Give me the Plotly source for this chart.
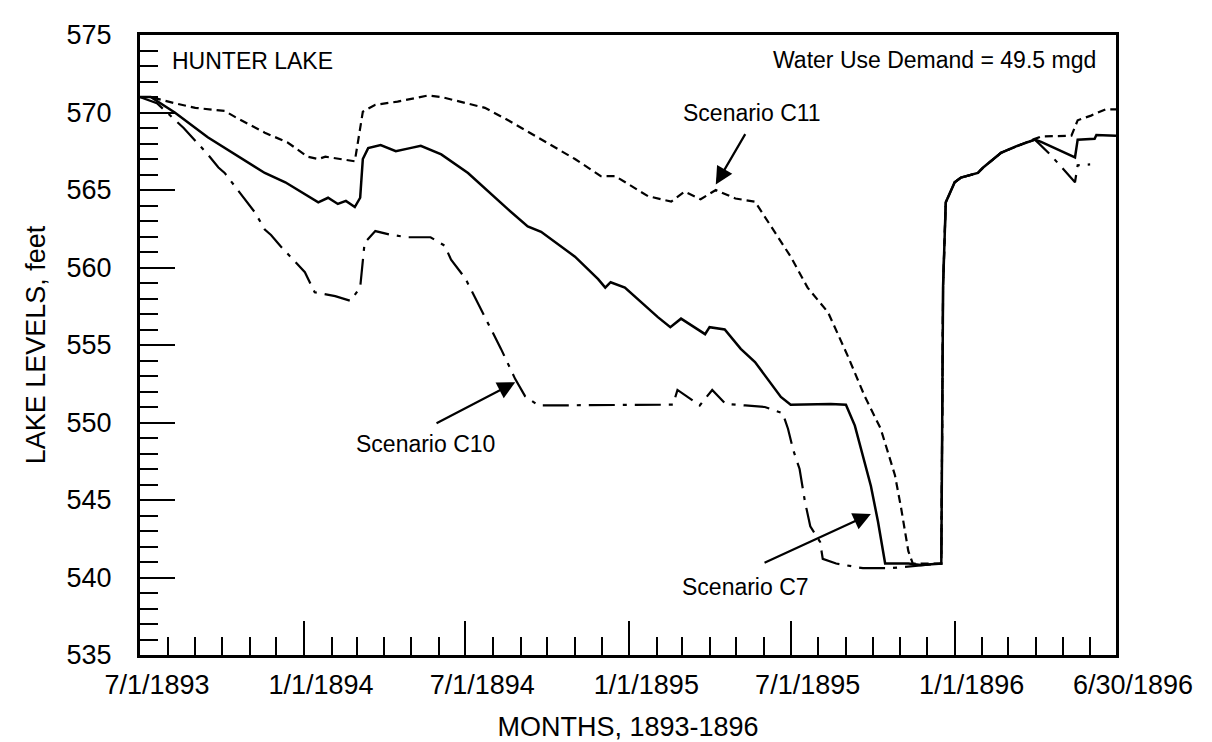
import plotly.graph_objects as go

# ---------------- data ----------------
c7_dates = ["1893-07-01", "1893-07-13", "1893-08-09", "1893-09-15", "1893-11-18", "1893-12-11",
            "1894-01-17", "1894-01-28", "1894-02-08", "1894-02-17", "1894-02-27", "1894-03-05",
            "1894-03-08", "1894-03-14", "1894-03-28", "1894-04-14", "1894-04-30", "1894-05-12",
            "1894-06-04", "1894-07-04", "1894-08-18", "1894-09-09", "1894-09-24", "1894-11-01",
            "1894-11-27", "1894-12-05", "1894-12-11", "1894-12-27", "1895-02-02", "1895-02-16",
            "1895-02-28", "1895-03-27", "1895-04-01", "1895-04-18", "1895-05-06", "1895-05-22",
            "1895-06-20", "1895-07-01", "1895-08-15", "1895-09-01", "1895-09-11", "1895-09-29",
            "1895-10-07", "1895-10-15", "1895-11-10", "1895-11-24", "1895-12-17", "1895-12-19",
            "1895-12-22", "1896-01-01", "1896-01-08", "1896-01-27", "1896-02-02", "1896-02-22",
            "1896-03-09", "1896-03-31", "1896-04-07", "1896-05-15", "1896-05-18", "1896-06-06",
            "1896-06-08", "1896-06-30"]
c7_levels = [571.0, 571.0, 570.0, 568.4, 566.1, 565.5,
             564.2, 564.5, 564.1, 564.3, 563.9, 564.5,
             567.0, 567.7, 567.9, 567.5, 567.7, 567.85,
             567.3, 566.1, 563.75, 562.65, 562.3, 560.7,
             559.25, 558.7, 559.05, 558.7, 556.8, 556.15,
             556.7, 555.7, 556.15, 556.0, 554.75, 553.9,
             551.65, 551.15, 551.2, 551.15, 549.8, 545.9,
             543.6, 540.9, 540.9, 540.8, 540.9, 558.8,
             564.2, 565.5, 565.8, 566.1, 566.45, 567.4,
             567.8, 568.25, 568.1, 567.1, 568.25, 568.3,
             568.55, 568.5]

c11_dates = ["1893-07-01", "1893-07-13", "1893-08-09", "1893-09-01", "1893-10-04", "1893-10-16",
             "1893-11-18", "1893-12-14", "1894-01-05", "1894-01-17", "1894-01-25", "1894-02-12",
             "1894-02-27", "1894-03-08", "1894-03-22", "1894-04-16", "1894-05-20", "1894-06-04",
             "1894-06-26", "1894-07-23", "1894-08-18", "1894-09-24", "1894-11-01", "1894-11-30",
             "1894-12-16", "1895-01-22", "1895-02-17", "1895-03-04", "1895-03-22", "1895-04-08",
             "1895-04-30", "1895-05-22", "1895-06-13", "1895-07-01", "1895-07-20", "1895-08-12",
             "1895-09-03", "1895-09-22", "1895-10-10", "1895-10-26", "1895-11-02", "1895-11-10",
             "1895-11-15", "1895-12-17", "1895-12-19", "1895-12-22", "1896-01-01", "1896-01-08",
             "1896-01-27", "1896-02-02", "1896-02-22", "1896-03-09", "1896-03-31", "1896-04-07",
             "1896-05-11", "1896-05-18", "1896-06-02", "1896-06-18", "1896-06-30"]
c11_levels = [571.0, 571.0, 570.6, 570.3, 570.1, 569.7,
              568.7, 568.05, 567.15, 567.0, 567.15, 567.0,
              566.85, 570.05, 570.5, 570.7, 571.1, 571.0,
              570.7, 570.3, 569.5, 568.25, 567.0, 565.9,
              565.9, 564.6, 564.25, 564.9, 564.4, 565.0,
              564.45, 564.25, 562.3, 560.7, 558.7, 557.1,
              554.3, 551.7, 549.6, 546.6, 544.45, 541.7,
              540.9, 540.9, 558.8, 564.2, 565.5, 565.8,
              566.1, 566.45, 567.4, 567.8, 568.3, 568.45,
              568.5, 569.5, 569.8, 570.2, 570.2]

c10_dates = ["1893-07-01", "1893-07-20", "1893-08-19", "1893-09-15", "1893-09-27", "1893-10-04",
             "1893-10-16", "1893-11-07", "1893-11-18", "1893-11-25", "1893-12-06", "1894-01-02",
             "1894-01-13", "1894-02-05", "1894-02-22", "1894-03-05", "1894-03-10", "1894-03-22",
             "1894-04-09", "1894-04-28", "1894-05-23", "1894-06-08", "1894-06-15", "1894-07-01",
             "1894-07-30", "1894-08-10", "1894-08-26", "1894-09-06", "1894-09-21", "1895-02-19",
             "1895-02-24", "1895-03-21", "1895-04-04", "1895-04-19", "1895-05-11", "1895-06-02",
             "1895-06-22", "1895-06-28", "1895-07-04", "1895-07-11", "1895-07-17", "1895-07-23",
             "1895-08-03", "1895-08-06", "1895-08-21", "1895-09-20", "1895-10-20", "1895-11-10",
             "1895-12-17", "1895-12-19", "1895-12-22", "1896-01-01", "1896-01-08", "1896-01-27",
             "1896-02-02", "1896-02-22", "1896-03-09", "1896-03-31", "1896-04-17", "1896-05-15",
             "1896-05-18", "1896-06-01"]
c10_levels = [571.0, 570.6, 569.0, 567.3, 566.45, 566.1,
              565.2, 563.55, 562.45, 562.1, 561.35, 559.7,
              558.4, 558.15, 557.85, 558.7, 561.6, 562.35,
              562.1, 561.95, 561.95, 561.4, 560.5, 559.3,
              556.0, 554.75, 552.8, 551.7, 551.1, 551.15,
              552.1, 551.1, 552.1, 551.2, 551.1, 551.0,
              550.6, 549.6, 548.2, 547.0, 544.9, 543.3,
              542.3, 541.2, 540.9, 540.6, 540.6, 540.7,
              540.9, 558.8, 564.2, 565.5, 565.8, 566.1,
              566.45, 567.4, 567.8, 568.25, 567.3, 565.5,
              566.6, 566.65]

tick_dates = ["1893-07-01", "1894-01-01", "1894-07-01", "1895-01-01",
              "1895-07-01", "1896-01-01", "1896-06-30"]
tick_labels = ["7/1/1893", "1/1/1894", "7/1/1894", "1/1/1895",
               "7/1/1895", "1/1/1896", "6/30/1896"]
y_ticks = [535, 540, 545, 550, 555, 560, 565, 570, 575]

FONT = "Liberation Sans, Arial, Helvetica, sans-serif"

fig = go.Figure()
fig.add_trace(go.Scatter(x=c10_dates, y=c10_levels, mode="lines", name="Scenario C10",
                         line=dict(color="black", width=2.2, dash="26px,8px,4px,8px")))
fig.add_trace(go.Scatter(x=c11_dates, y=c11_levels, mode="lines", name="Scenario C11",
                         line=dict(color="black", width=2.2, dash="8px,5px")))
fig.add_trace(go.Scatter(x=c7_dates, y=c7_levels, mode="lines", name="Scenario C7",
                         line=dict(color="black", width=2.5)))

fig.update_layout(
    width=1212, height=742,
    margin=dict(l=132, r=104, t=25, b=95),
    paper_bgcolor="white", plot_bgcolor="white",
    showlegend=False,
    font=dict(family=FONT, color="black", size=26),
)

fig.update_xaxes(
    type="date", range=["1893-07-01", "1896-06-30"],
    tickmode="array", tickvals=tick_dates, ticktext=tick_labels,
    ticks="inside", ticklen=34, tickwidth=2.2, tickcolor="black",
    minor=dict(ticks="inside", ticklen=18, tickwidth=2.2, tickcolor="black",
               dtick="M1", tick0="1893-07-01", showgrid=False),
    showline=True, linecolor="black", linewidth=3, mirror=True,
    showgrid=False, zeroline=False,
    tickfont=dict(size=27), ticklabelshift=17, ticklabelstandoff=4,
    title=dict(text="MONTHS, 1893-1896", font=dict(size=27), standoff=18),
)
fig.update_yaxes(
    range=[535, 575], tickmode="array", tickvals=y_ticks,
    ticks="inside", ticklen=35, tickwidth=2.2, tickcolor="black",
    minor=dict(ticks="inside", ticklen=18, tickwidth=2.2, tickcolor="black",
               dtick=1, tick0=535, showgrid=False),
    showline=True, linecolor="black", linewidth=3, mirror=True,
    showgrid=False, zeroline=False,
    tickfont=dict(size=27), ticklabelstandoff=20,
    title=dict(text="LAKE LEVELS, feet", font=dict(size=27), standoff=14),
)

ann_font = dict(family=FONT, size=23, color="black")
fig.add_annotation(xref="paper", yref="paper", x=0.031, y=0.958, text="HUNTER LAKE",
                   showarrow=False, xanchor="left", yanchor="middle", font=ann_font)
fig.add_annotation(xref="paper", yref="paper", x=0.982, y=0.96,
                   text="Water Use Demand = 49.5 mgd",
                   showarrow=False, xanchor="right", yanchor="middle", font=ann_font)
fig.add_annotation(x="1895-05-19", y=570.0, text="Scenario C11", showarrow=False, font=ann_font)
fig.add_annotation(x="1894-05-17", y=548.6, text="Scenario C10", showarrow=False, font=ann_font)
fig.add_annotation(x="1895-05-11", y=539.4, text="Scenario C7", showarrow=False, font=ann_font)

arrow = dict(showarrow=True, arrowhead=2, arrowsize=1.6, arrowwidth=2.2, arrowcolor="black",
             axref="x", ayref="y", text="")
fig.add_annotation(x="1895-04-08", y=565.35, ax="1895-05-12", ay=568.7, **arrow)
fig.add_annotation(x="1894-08-26", y=552.6, ax="1894-05-28", ay=549.9, **arrow)
fig.add_annotation(x="1895-09-29", y=544.1, ax="1895-05-31", ay=540.9, **arrow)

fig.write_html("out.html")
